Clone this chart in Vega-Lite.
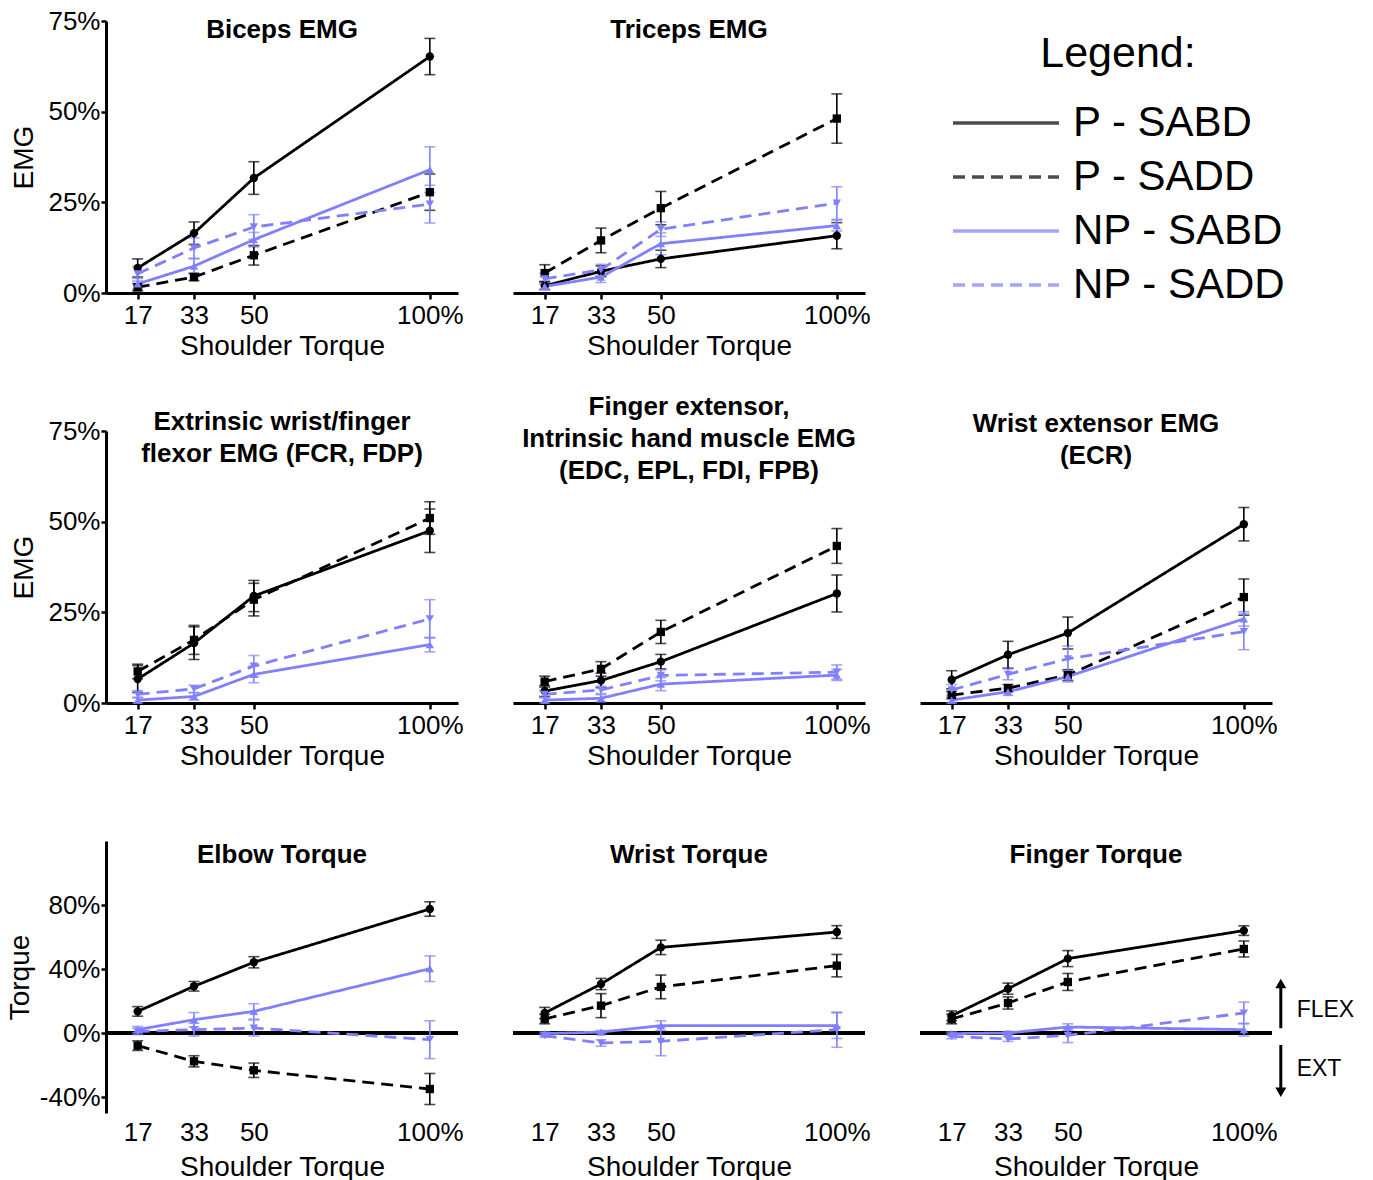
{
  "$schema": "https://vega.github.io/schema/vega-lite/v6.json",
  "padding": {"left": 6, "top": 8, "right": 0, "bottom": 0},
  "background": "white",
  "data": {"values": [
    {"panel":"Biceps","group":"P - SABD","torque":17,"value":6.9,"err":2.5},
    {"panel":"Biceps","group":"P - SABD","torque":33,"value":16.5,"err":3.1},
    {"panel":"Biceps","group":"P - SABD","torque":50,"value":31.7,"err":4.5},
    {"panel":"Biceps","group":"P - SABD","torque":100,"value":65.2,"err":5.0},
    {"panel":"Biceps","group":"P - SADD","torque":17,"value":1.6,"err":1.0},
    {"panel":"Biceps","group":"P - SADD","torque":33,"value":4.4,"err":1.0},
    {"panel":"Biceps","group":"P - SADD","torque":50,"value":10.4,"err":2.7},
    {"panel":"Biceps","group":"P - SADD","torque":100,"value":27.8,"err":5.0},
    {"panel":"Biceps","group":"NP - SABD","torque":17,"value":2.5,"err":1.5},
    {"panel":"Biceps","group":"NP - SABD","torque":33,"value":7.4,"err":2.0},
    {"panel":"Biceps","group":"NP - SABD","torque":50,"value":14.7,"err":2.0},
    {"panel":"Biceps","group":"NP - SABD","torque":100,"value":34.0,"err":6.3},
    {"panel":"Biceps","group":"NP - SADD","torque":17,"value":5.3,"err":2.0},
    {"panel":"Biceps","group":"NP - SADD","torque":33,"value":12.4,"err":2.8},
    {"panel":"Biceps","group":"NP - SADD","torque":50,"value":18.2,"err":3.4},
    {"panel":"Biceps","group":"NP - SADD","torque":100,"value":24.5,"err":5.2},
    {"panel":"Triceps","group":"P - SABD","torque":17,"value":2.0,"err":1.0},
    {"panel":"Triceps","group":"P - SABD","torque":33,"value":6.0,"err":1.5},
    {"panel":"Triceps","group":"P - SABD","torque":50,"value":9.4,"err":2.4},
    {"panel":"Triceps","group":"P - SABD","torque":100,"value":15.8,"err":3.6},
    {"panel":"Triceps","group":"P - SADD","torque":17,"value":5.5,"err":2.3},
    {"panel":"Triceps","group":"P - SADD","torque":33,"value":14.5,"err":3.4},
    {"panel":"Triceps","group":"P - SADD","torque":50,"value":23.4,"err":4.6},
    {"panel":"Triceps","group":"P - SADD","torque":100,"value":48.1,"err":6.8},
    {"panel":"Triceps","group":"NP - SABD","torque":17,"value":1.8,"err":1.0},
    {"panel":"Triceps","group":"NP - SABD","torque":33,"value":4.4,"err":1.5},
    {"panel":"Triceps","group":"NP - SABD","torque":50,"value":13.6,"err":3.0},
    {"panel":"Triceps","group":"NP - SABD","torque":100,"value":18.6,"err":1.5},
    {"panel":"Triceps","group":"NP - SADD","torque":17,"value":3.9,"err":1.5},
    {"panel":"Triceps","group":"NP - SADD","torque":33,"value":6.4,"err":1.5},
    {"panel":"Triceps","group":"NP - SADD","torque":50,"value":17.6,"err":2.0},
    {"panel":"Triceps","group":"NP - SADD","torque":100,"value":24.8,"err":4.5},
    {"panel":"Flexor","group":"P - SABD","torque":17,"value":6.6,"err":3.7},
    {"panel":"Flexor","group":"P - SABD","torque":33,"value":16.5,"err":4.5},
    {"panel":"Flexor","group":"P - SABD","torque":50,"value":29.5,"err":4.3},
    {"panel":"Flexor","group":"P - SABD","torque":100,"value":47.5,"err":6.0},
    {"panel":"Flexor","group":"P - SADD","torque":17,"value":8.7,"err":2.0},
    {"panel":"Flexor","group":"P - SADD","torque":33,"value":17.4,"err":4.0},
    {"panel":"Flexor","group":"P - SADD","torque":50,"value":28.5,"err":4.5},
    {"panel":"Flexor","group":"P - SADD","torque":100,"value":51.0,"err":4.5},
    {"panel":"Flexor","group":"NP - SABD","torque":17,"value":0.8,"err":0.8},
    {"panel":"Flexor","group":"NP - SABD","torque":33,"value":1.8,"err":1.0},
    {"panel":"Flexor","group":"NP - SABD","torque":50,"value":7.9,"err":2.3},
    {"panel":"Flexor","group":"NP - SABD","torque":100,"value":16.1,"err":2.0},
    {"panel":"Flexor","group":"NP - SADD","torque":17,"value":2.4,"err":1.0},
    {"panel":"Flexor","group":"NP - SADD","torque":33,"value":3.9,"err":1.0},
    {"panel":"Flexor","group":"NP - SADD","torque":50,"value":10.2,"err":2.9},
    {"panel":"Flexor","group":"NP - SADD","torque":100,"value":23.2,"err":5.3},
    {"panel":"FingerExt","group":"P - SABD","torque":17,"value":3.3,"err":1.5},
    {"panel":"FingerExt","group":"P - SABD","torque":33,"value":6.2,"err":2.0},
    {"panel":"FingerExt","group":"P - SABD","torque":50,"value":11.4,"err":2.0},
    {"panel":"FingerExt","group":"P - SABD","torque":100,"value":30.2,"err":5.1},
    {"panel":"FingerExt","group":"P - SADD","torque":17,"value":5.9,"err":1.5},
    {"panel":"FingerExt","group":"P - SADD","torque":33,"value":9.4,"err":2.0},
    {"panel":"FingerExt","group":"P - SADD","torque":50,"value":19.6,"err":3.2},
    {"panel":"FingerExt","group":"P - SADD","torque":100,"value":43.3,"err":4.8},
    {"panel":"FingerExt","group":"NP - SABD","torque":17,"value":0.8,"err":0.8},
    {"panel":"FingerExt","group":"NP - SABD","torque":33,"value":1.3,"err":1.0},
    {"panel":"FingerExt","group":"NP - SABD","torque":50,"value":5.2,"err":1.8},
    {"panel":"FingerExt","group":"NP - SABD","torque":100,"value":7.7,"err":1.5},
    {"panel":"FingerExt","group":"NP - SADD","torque":17,"value":2.4,"err":1.0},
    {"panel":"FingerExt","group":"NP - SADD","torque":33,"value":3.6,"err":1.0},
    {"panel":"FingerExt","group":"NP - SADD","torque":50,"value":7.6,"err":1.5},
    {"panel":"FingerExt","group":"NP - SADD","torque":100,"value":8.5,"err":2.0},
    {"panel":"WristExt","group":"P - SABD","torque":17,"value":6.4,"err":2.5},
    {"panel":"WristExt","group":"P - SABD","torque":33,"value":13.3,"err":3.7},
    {"panel":"WristExt","group":"P - SABD","torque":50,"value":19.3,"err":4.4},
    {"panel":"WristExt","group":"P - SABD","torque":100,"value":49.3,"err":4.6},
    {"panel":"WristExt","group":"P - SADD","torque":17,"value":2.2,"err":1.0},
    {"panel":"WristExt","group":"P - SADD","torque":33,"value":4.1,"err":1.0},
    {"panel":"WristExt","group":"P - SADD","torque":50,"value":7.7,"err":1.5},
    {"panel":"WristExt","group":"P - SADD","torque":100,"value":29.2,"err":5.0},
    {"panel":"WristExt","group":"NP - SABD","torque":17,"value":0.8,"err":0.8},
    {"panel":"WristExt","group":"NP - SABD","torque":33,"value":3.1,"err":1.0},
    {"panel":"WristExt","group":"NP - SABD","torque":50,"value":7.3,"err":1.5},
    {"panel":"WristExt","group":"NP - SABD","torque":100,"value":23.2,"err":2.0},
    {"panel":"WristExt","group":"NP - SADD","torque":17,"value":3.6,"err":1.5},
    {"panel":"WristExt","group":"NP - SADD","torque":33,"value":7.9,"err":1.5},
    {"panel":"WristExt","group":"NP - SADD","torque":50,"value":12.2,"err":3.5},
    {"panel":"WristExt","group":"NP - SADD","torque":100,"value":19.7,"err":5.0},
    {"panel":"Elbow","group":"P - SABD","torque":17,"value":13.5,"err":3.0},
    {"panel":"Elbow","group":"P - SABD","torque":33,"value":29.2,"err":3.0},
    {"panel":"Elbow","group":"P - SABD","torque":50,"value":44.2,"err":3.5},
    {"panel":"Elbow","group":"P - SABD","torque":100,"value":77.5,"err":4.5},
    {"panel":"Elbow","group":"P - SADD","torque":17,"value":-7.9,"err":3.0},
    {"panel":"Elbow","group":"P - SADD","torque":33,"value":-17.7,"err":3.5},
    {"panel":"Elbow","group":"P - SADD","torque":50,"value":-23.3,"err":4.5},
    {"panel":"Elbow","group":"P - SADD","torque":100,"value":-35.0,"err":9.7},
    {"panel":"Elbow","group":"NP - SABD","torque":17,"value":2.1,"err":2.0},
    {"panel":"Elbow","group":"NP - SABD","torque":33,"value":8.3,"err":4.5},
    {"panel":"Elbow","group":"NP - SABD","torque":50,"value":13.5,"err":4.8},
    {"panel":"Elbow","group":"NP - SABD","torque":100,"value":40.2,"err":8.0},
    {"panel":"Elbow","group":"NP - SADD","torque":17,"value":1.0,"err":2.0},
    {"panel":"Elbow","group":"NP - SADD","torque":33,"value":2.1,"err":4.0},
    {"panel":"Elbow","group":"NP - SADD","torque":50,"value":3.1,"err":5.0},
    {"panel":"Elbow","group":"NP - SADD","torque":100,"value":-4.2,"err":11.8},
    {"panel":"WristT","group":"P - SABD","torque":17,"value":12.5,"err":3.5},
    {"panel":"WristT","group":"P - SABD","torque":33,"value":30.6,"err":3.5},
    {"panel":"WristT","group":"P - SABD","torque":50,"value":53.5,"err":4.5},
    {"panel":"WristT","group":"P - SABD","torque":100,"value":63.1,"err":4.0},
    {"panel":"WristT","group":"P - SADD","torque":17,"value":8.75,"err":3.0},
    {"panel":"WristT","group":"P - SADD","torque":33,"value":17.1,"err":7.5},
    {"panel":"WristT","group":"P - SADD","torque":50,"value":28.8,"err":7.4},
    {"panel":"WristT","group":"P - SADD","torque":100,"value":42.1,"err":7.0},
    {"panel":"WristT","group":"NP - SABD","torque":17,"value":-0.4,"err":1.0},
    {"panel":"WristT","group":"NP - SABD","torque":33,"value":0.6,"err":1.0},
    {"panel":"WristT","group":"NP - SABD","torque":50,"value":4.6,"err":3.0},
    {"panel":"WristT","group":"NP - SABD","torque":100,"value":4.6,"err":8.0},
    {"panel":"WristT","group":"NP - SADD","torque":17,"value":-1.7,"err":1.0},
    {"panel":"WristT","group":"NP - SADD","torque":33,"value":-6.25,"err":2.0},
    {"panel":"WristT","group":"NP - SADD","torque":50,"value":-5.2,"err":9.0},
    {"panel":"WristT","group":"NP - SADD","torque":100,"value":2.1,"err":11.0},
    {"panel":"FingerT","group":"P - SABD","torque":17,"value":10.8,"err":3.0},
    {"panel":"FingerT","group":"P - SABD","torque":33,"value":27.7,"err":3.5},
    {"panel":"FingerT","group":"P - SABD","torque":50,"value":46.5,"err":5.0},
    {"panel":"FingerT","group":"P - SABD","torque":100,"value":64.0,"err":3.0},
    {"panel":"FingerT","group":"P - SADD","torque":17,"value":8.75,"err":3.0},
    {"panel":"FingerT","group":"P - SADD","torque":33,"value":18.75,"err":3.8},
    {"panel":"FingerT","group":"P - SADD","torque":50,"value":31.9,"err":5.3},
    {"panel":"FingerT","group":"P - SADD","torque":100,"value":52.5,"err":5.0},
    {"panel":"FingerT","group":"NP - SABD","torque":17,"value":-0.4,"err":1.0},
    {"panel":"FingerT","group":"NP - SABD","torque":33,"value":0.0,"err":1.0},
    {"panel":"FingerT","group":"NP - SABD","torque":50,"value":3.75,"err":2.0},
    {"panel":"FingerT","group":"NP - SABD","torque":100,"value":2.1,"err":4.0},
    {"panel":"FingerT","group":"NP - SADD","torque":17,"value":-2.1,"err":1.5},
    {"panel":"FingerT","group":"NP - SADD","torque":33,"value":-3.75,"err":1.5},
    {"panel":"FingerT","group":"NP - SADD","torque":50,"value":-1.5,"err":4.5},
    {"panel":"FingerT","group":"NP - SADD","torque":100,"value":12.5,"err":6.8}
  ]},
  "columns": 3,
  "bounds": "flush",
  "spacing": {"row": 138, "column": 55},
  "concat": [
    {
      "width": 352, "height": 272,
      "title": {"text": "Biceps EMG", "offset": -35},
      "transform": [{"filter": {"field": "panel", "equal": "Biceps"}}],
      "layer": [
        {"mark": {"type": "errorbar", "ticks": {"size": 11}, "thickness": 1.6},
         "encoding": {"x": {"field": "torque", "type": "quantitative", "title": "Shoulder Torque", "scale": {"domain": [8, 108], "nice": false, "zero": false}}, "y": {"field": "value", "type": "quantitative", "title": "EMG", "scale": {"domain": [0, 75], "nice": false, "zero": false}}, "yError": {"field": "err"},
           "color": {"field": "group", "type": "nominal", "scale": {"domain": ["P - SABD","P - SADD","NP - SABD","NP - SADD"], "range": ["#000000","#000000","#8080ff","#8080ff"]}, "title": "Legend:"}}},
        {"mark": {"type": "line", "strokeWidth": 2.8},
         "encoding": {
           "x": {"field": "torque", "type": "quantitative", "title": "Shoulder Torque", "scale": {"domain": [8, 108], "nice": false, "zero": false}, "axis": {"values": [17,33,50,100], "labelExpr": "datum.value == 100 ? '100%' : datum.label", "title": "Shoulder Torque", "tickSize": 6, "labelPadding": 3, "titlePadding": 4}},
           "y": {"field": "value", "type": "quantitative", "title": "EMG", "scale": {"domain": [0, 75], "nice": false, "zero": false}, "axis": {"values": [0,25,50,75], "labelExpr": "datum.value + '%'", "title": "EMG", "tickSize": 5, "labelPadding": 1, "titlePadding": 9}},
           "color": {"field": "group", "type": "nominal", "scale": {"domain": ["P - SABD","P - SADD","NP - SABD","NP - SADD"], "range": ["#000000","#000000","#8080ff","#8080ff"]}, "title": "Legend:"},
           "strokeDash": {"field": "group", "type": "nominal", "scale": {"domain": ["P - SABD","P - SADD","NP - SABD","NP - SADD"], "range": [[1,0],[12,7],[1,0],[12,7]]}, "title": "Legend:"}}},
        {"transform": [{"filter": {"field": "group", "equal": "P - SABD"}}], "mark": {"type": "point", "shape": "circle", "filled": true, "size": 70, "opacity": 1, "color": "#000000"},
         "encoding": {"x": {"field": "torque", "type": "quantitative", "title": "Shoulder Torque", "scale": {"domain": [8, 108], "nice": false, "zero": false}}, "y": {"field": "value", "type": "quantitative", "title": "EMG", "scale": {"domain": [0, 75], "nice": false, "zero": false}}}},
        {"transform": [{"filter": {"field": "group", "equal": "P - SADD"}}], "mark": {"type": "point", "shape": "square", "filled": true, "size": 70, "opacity": 1, "color": "#000000"},
         "encoding": {"x": {"field": "torque", "type": "quantitative", "title": "Shoulder Torque", "scale": {"domain": [8, 108], "nice": false, "zero": false}}, "y": {"field": "value", "type": "quantitative", "title": "EMG", "scale": {"domain": [0, 75], "nice": false, "zero": false}}}},
        {"transform": [{"filter": {"field": "group", "equal": "NP - SABD"}}], "mark": {"type": "point", "shape": "triangle-up", "filled": true, "size": 70, "opacity": 1, "color": "#8080ff"},
         "encoding": {"x": {"field": "torque", "type": "quantitative", "title": "Shoulder Torque", "scale": {"domain": [8, 108], "nice": false, "zero": false}}, "y": {"field": "value", "type": "quantitative", "title": "EMG", "scale": {"domain": [0, 75], "nice": false, "zero": false}}}},
        {"transform": [{"filter": {"field": "group", "equal": "NP - SADD"}}], "mark": {"type": "point", "shape": "triangle-down", "filled": true, "size": 70, "opacity": 1, "color": "#8080ff"},
         "encoding": {"x": {"field": "torque", "type": "quantitative", "title": "Shoulder Torque", "scale": {"domain": [8, 108], "nice": false, "zero": false}}, "y": {"field": "value", "type": "quantitative", "title": "EMG", "scale": {"domain": [0, 75], "nice": false, "zero": false}}}}
      ]
    },
    {
      "width": 352, "height": 272,
      "title": {"text": "Triceps EMG", "offset": -22},
      "transform": [{"filter": {"field": "panel", "equal": "Triceps"}}],
      "layer": [
        {"mark": {"type": "errorbar", "ticks": {"size": 11}, "thickness": 1.6},
         "encoding": {"x": {"field": "torque", "type": "quantitative", "title": "Shoulder Torque", "scale": {"domain": [8, 108], "nice": false, "zero": false}}, "y": {"field": "value", "type": "quantitative", "scale": {"domain": [0, 75], "nice": false, "zero": false}, "axis": null}, "yError": {"field": "err"},
           "color": {"field": "group", "type": "nominal", "title": "Legend:"}}},
        {"mark": {"type": "line", "strokeWidth": 2.8},
         "encoding": {
           "x": {"field": "torque", "type": "quantitative", "title": "Shoulder Torque", "scale": {"domain": [8, 108], "nice": false, "zero": false}, "axis": {"values": [17,33,50,100], "labelExpr": "datum.value == 100 ? '100%' : datum.label", "title": "Shoulder Torque", "tickSize": 6, "labelPadding": 3, "titlePadding": 4}},
           "y": {"field": "value", "type": "quantitative", "scale": {"domain": [0, 75], "nice": false, "zero": false}, "axis": null},
           "color": {"field": "group", "type": "nominal", "title": "Legend:"},
           "strokeDash": {"field": "group", "type": "nominal", "title": "Legend:"}}},
        {"transform": [{"filter": {"field": "group", "equal": "P - SABD"}}], "mark": {"type": "point", "shape": "circle", "filled": true, "size": 70, "opacity": 1, "color": "#000000"},
         "encoding": {"x": {"field": "torque", "type": "quantitative", "title": "Shoulder Torque", "scale": {"domain": [8, 108], "nice": false, "zero": false}}, "y": {"field": "value", "type": "quantitative", "scale": {"domain": [0, 75], "nice": false, "zero": false}, "axis": null}}},
        {"transform": [{"filter": {"field": "group", "equal": "P - SADD"}}], "mark": {"type": "point", "shape": "square", "filled": true, "size": 70, "opacity": 1, "color": "#000000"},
         "encoding": {"x": {"field": "torque", "type": "quantitative", "title": "Shoulder Torque", "scale": {"domain": [8, 108], "nice": false, "zero": false}}, "y": {"field": "value", "type": "quantitative", "scale": {"domain": [0, 75], "nice": false, "zero": false}, "axis": null}}},
        {"transform": [{"filter": {"field": "group", "equal": "NP - SABD"}}], "mark": {"type": "point", "shape": "triangle-up", "filled": true, "size": 70, "opacity": 1, "color": "#8080ff"},
         "encoding": {"x": {"field": "torque", "type": "quantitative", "title": "Shoulder Torque", "scale": {"domain": [8, 108], "nice": false, "zero": false}}, "y": {"field": "value", "type": "quantitative", "scale": {"domain": [0, 75], "nice": false, "zero": false}, "axis": null}}},
        {"transform": [{"filter": {"field": "group", "equal": "NP - SADD"}}], "mark": {"type": "point", "shape": "triangle-down", "filled": true, "size": 70, "opacity": 1, "color": "#8080ff"},
         "encoding": {"x": {"field": "torque", "type": "quantitative", "title": "Shoulder Torque", "scale": {"domain": [8, 108], "nice": false, "zero": false}}, "y": {"field": "value", "type": "quantitative", "scale": {"domain": [0, 75], "nice": false, "zero": false}, "axis": null}}}
      ]
    },
    {
      "width": 352, "height": 272,
      "transform": [{"filter": "false"}],
      "mark": {"type": "point", "opacity": 0},
      "encoding": {"x": {"field": "torque", "type": "quantitative", "axis": null}, "y": {"field": "value", "type": "quantitative", "axis": null}}
    },
    {
      "width": 352, "height": 272,
      "title": {"text": ["Extrinsic wrist/finger", "flexor EMG (FCR, FDP)"], "offset": -49},
      "transform": [{"filter": {"field": "panel", "equal": "Flexor"}}],
      "layer": [
        {"mark": {"type": "errorbar", "ticks": {"size": 11}, "thickness": 1.6},
         "encoding": {"x": {"field": "torque", "type": "quantitative", "title": "Shoulder Torque", "scale": {"domain": [8, 108], "nice": false, "zero": false}}, "y": {"field": "value", "type": "quantitative", "title": "EMG", "scale": {"domain": [0, 75], "nice": false, "zero": false}}, "yError": {"field": "err"},
           "color": {"field": "group", "type": "nominal", "title": "Legend:"}}},
        {"mark": {"type": "line", "strokeWidth": 2.8},
         "encoding": {
           "x": {"field": "torque", "type": "quantitative", "title": "Shoulder Torque", "scale": {"domain": [8, 108], "nice": false, "zero": false}, "axis": {"values": [17,33,50,100], "labelExpr": "datum.value == 100 ? '100%' : datum.label", "title": "Shoulder Torque", "tickSize": 6, "labelPadding": 3, "titlePadding": 4}},
           "y": {"field": "value", "type": "quantitative", "title": "EMG", "scale": {"domain": [0, 75], "nice": false, "zero": false}, "axis": {"values": [0,25,50,75], "labelExpr": "datum.value + '%'", "title": "EMG", "tickSize": 5, "labelPadding": 1, "titlePadding": 9}},
           "color": {"field": "group", "type": "nominal", "title": "Legend:"},
           "strokeDash": {"field": "group", "type": "nominal", "title": "Legend:"}}},
        {"transform": [{"filter": {"field": "group", "equal": "P - SABD"}}], "mark": {"type": "point", "shape": "circle", "filled": true, "size": 70, "opacity": 1, "color": "#000000"},
         "encoding": {"x": {"field": "torque", "type": "quantitative", "title": "Shoulder Torque", "scale": {"domain": [8, 108], "nice": false, "zero": false}}, "y": {"field": "value", "type": "quantitative", "title": "EMG", "scale": {"domain": [0, 75], "nice": false, "zero": false}}}},
        {"transform": [{"filter": {"field": "group", "equal": "P - SADD"}}], "mark": {"type": "point", "shape": "square", "filled": true, "size": 70, "opacity": 1, "color": "#000000"},
         "encoding": {"x": {"field": "torque", "type": "quantitative", "title": "Shoulder Torque", "scale": {"domain": [8, 108], "nice": false, "zero": false}}, "y": {"field": "value", "type": "quantitative", "title": "EMG", "scale": {"domain": [0, 75], "nice": false, "zero": false}}}},
        {"transform": [{"filter": {"field": "group", "equal": "NP - SABD"}}], "mark": {"type": "point", "shape": "triangle-up", "filled": true, "size": 70, "opacity": 1, "color": "#8080ff"},
         "encoding": {"x": {"field": "torque", "type": "quantitative", "title": "Shoulder Torque", "scale": {"domain": [8, 108], "nice": false, "zero": false}}, "y": {"field": "value", "type": "quantitative", "title": "EMG", "scale": {"domain": [0, 75], "nice": false, "zero": false}}}},
        {"transform": [{"filter": {"field": "group", "equal": "NP - SADD"}}], "mark": {"type": "point", "shape": "triangle-down", "filled": true, "size": 70, "opacity": 1, "color": "#8080ff"},
         "encoding": {"x": {"field": "torque", "type": "quantitative", "title": "Shoulder Torque", "scale": {"domain": [8, 108], "nice": false, "zero": false}}, "y": {"field": "value", "type": "quantitative", "title": "EMG", "scale": {"domain": [0, 75], "nice": false, "zero": false}}}}
      ]
    },
    {
      "width": 352, "height": 272,
      "title": {"text": ["Finger extensor,", "Intrinsic hand muscle EMG", "(EDC, EPL, FDI, FPB)"], "offset": -53},
      "transform": [{"filter": {"field": "panel", "equal": "FingerExt"}}],
      "layer": [
        {"mark": {"type": "errorbar", "ticks": {"size": 11}, "thickness": 1.6},
         "encoding": {"x": {"field": "torque", "type": "quantitative", "title": "Shoulder Torque", "scale": {"domain": [8, 108], "nice": false, "zero": false}}, "y": {"field": "value", "type": "quantitative", "scale": {"domain": [0, 75], "nice": false, "zero": false}, "axis": null}, "yError": {"field": "err"},
           "color": {"field": "group", "type": "nominal", "title": "Legend:"}}},
        {"mark": {"type": "line", "strokeWidth": 2.8},
         "encoding": {
           "x": {"field": "torque", "type": "quantitative", "title": "Shoulder Torque", "scale": {"domain": [8, 108], "nice": false, "zero": false}, "axis": {"values": [17,33,50,100], "labelExpr": "datum.value == 100 ? '100%' : datum.label", "title": "Shoulder Torque", "tickSize": 6, "labelPadding": 3, "titlePadding": 4}},
           "y": {"field": "value", "type": "quantitative", "scale": {"domain": [0, 75], "nice": false, "zero": false}, "axis": null},
           "color": {"field": "group", "type": "nominal", "title": "Legend:"},
           "strokeDash": {"field": "group", "type": "nominal", "title": "Legend:"}}},
        {"transform": [{"filter": {"field": "group", "equal": "P - SABD"}}], "mark": {"type": "point", "shape": "circle", "filled": true, "size": 70, "opacity": 1, "color": "#000000"},
         "encoding": {"x": {"field": "torque", "type": "quantitative", "title": "Shoulder Torque", "scale": {"domain": [8, 108], "nice": false, "zero": false}}, "y": {"field": "value", "type": "quantitative", "scale": {"domain": [0, 75], "nice": false, "zero": false}, "axis": null}}},
        {"transform": [{"filter": {"field": "group", "equal": "P - SADD"}}], "mark": {"type": "point", "shape": "square", "filled": true, "size": 70, "opacity": 1, "color": "#000000"},
         "encoding": {"x": {"field": "torque", "type": "quantitative", "title": "Shoulder Torque", "scale": {"domain": [8, 108], "nice": false, "zero": false}}, "y": {"field": "value", "type": "quantitative", "scale": {"domain": [0, 75], "nice": false, "zero": false}, "axis": null}}},
        {"transform": [{"filter": {"field": "group", "equal": "NP - SABD"}}], "mark": {"type": "point", "shape": "triangle-up", "filled": true, "size": 70, "opacity": 1, "color": "#8080ff"},
         "encoding": {"x": {"field": "torque", "type": "quantitative", "title": "Shoulder Torque", "scale": {"domain": [8, 108], "nice": false, "zero": false}}, "y": {"field": "value", "type": "quantitative", "scale": {"domain": [0, 75], "nice": false, "zero": false}, "axis": null}}},
        {"transform": [{"filter": {"field": "group", "equal": "NP - SADD"}}], "mark": {"type": "point", "shape": "triangle-down", "filled": true, "size": 70, "opacity": 1, "color": "#8080ff"},
         "encoding": {"x": {"field": "torque", "type": "quantitative", "title": "Shoulder Torque", "scale": {"domain": [8, 108], "nice": false, "zero": false}}, "y": {"field": "value", "type": "quantitative", "scale": {"domain": [0, 75], "nice": false, "zero": false}, "axis": null}}}
      ]
    },
    {
      "width": 352, "height": 272,
      "title": {"text": ["Wrist extensor EMG", "(ECR)"], "offset": -38},
      "transform": [{"filter": {"field": "panel", "equal": "WristExt"}}],
      "layer": [
        {"mark": {"type": "errorbar", "ticks": {"size": 11}, "thickness": 1.6},
         "encoding": {"x": {"field": "torque", "type": "quantitative", "title": "Shoulder Torque", "scale": {"domain": [8, 108], "nice": false, "zero": false}}, "y": {"field": "value", "type": "quantitative", "scale": {"domain": [0, 75], "nice": false, "zero": false}, "axis": null}, "yError": {"field": "err"},
           "color": {"field": "group", "type": "nominal", "title": "Legend:"}}},
        {"mark": {"type": "line", "strokeWidth": 2.8},
         "encoding": {
           "x": {"field": "torque", "type": "quantitative", "title": "Shoulder Torque", "scale": {"domain": [8, 108], "nice": false, "zero": false}, "axis": {"values": [17,33,50,100], "labelExpr": "datum.value == 100 ? '100%' : datum.label", "title": "Shoulder Torque", "tickSize": 6, "labelPadding": 3, "titlePadding": 4}},
           "y": {"field": "value", "type": "quantitative", "scale": {"domain": [0, 75], "nice": false, "zero": false}, "axis": null},
           "color": {"field": "group", "type": "nominal", "title": "Legend:"},
           "strokeDash": {"field": "group", "type": "nominal", "title": "Legend:"}}},
        {"transform": [{"filter": {"field": "group", "equal": "P - SABD"}}], "mark": {"type": "point", "shape": "circle", "filled": true, "size": 70, "opacity": 1, "color": "#000000"},
         "encoding": {"x": {"field": "torque", "type": "quantitative", "title": "Shoulder Torque", "scale": {"domain": [8, 108], "nice": false, "zero": false}}, "y": {"field": "value", "type": "quantitative", "scale": {"domain": [0, 75], "nice": false, "zero": false}, "axis": null}}},
        {"transform": [{"filter": {"field": "group", "equal": "P - SADD"}}], "mark": {"type": "point", "shape": "square", "filled": true, "size": 70, "opacity": 1, "color": "#000000"},
         "encoding": {"x": {"field": "torque", "type": "quantitative", "title": "Shoulder Torque", "scale": {"domain": [8, 108], "nice": false, "zero": false}}, "y": {"field": "value", "type": "quantitative", "scale": {"domain": [0, 75], "nice": false, "zero": false}, "axis": null}}},
        {"transform": [{"filter": {"field": "group", "equal": "NP - SABD"}}], "mark": {"type": "point", "shape": "triangle-up", "filled": true, "size": 70, "opacity": 1, "color": "#8080ff"},
         "encoding": {"x": {"field": "torque", "type": "quantitative", "title": "Shoulder Torque", "scale": {"domain": [8, 108], "nice": false, "zero": false}}, "y": {"field": "value", "type": "quantitative", "scale": {"domain": [0, 75], "nice": false, "zero": false}, "axis": null}}},
        {"transform": [{"filter": {"field": "group", "equal": "NP - SADD"}}], "mark": {"type": "point", "shape": "triangle-down", "filled": true, "size": 70, "opacity": 1, "color": "#8080ff"},
         "encoding": {"x": {"field": "torque", "type": "quantitative", "title": "Shoulder Torque", "scale": {"domain": [8, 108], "nice": false, "zero": false}}, "y": {"field": "value", "type": "quantitative", "scale": {"domain": [0, 75], "nice": false, "zero": false}, "axis": null}}}
      ]
    },
    {
      "width": 352, "height": 272,
      "title": {"text": "Elbow Torque", "offset": -27},
      "transform": [{"filter": {"field": "panel", "equal": "Elbow"}}],
      "layer": [
        {"mark": {"type": "rule", "strokeWidth": 3, "color": "black"},
         "encoding": {"y": {"datum": 0, "type": "quantitative", "title": "Torque", "scale": {"domain": [-50, 120], "nice": false, "zero": false}}}},
        {"mark": {"type": "errorbar", "ticks": {"size": 11}, "thickness": 1.6},
         "encoding": {"x": {"field": "torque", "type": "quantitative", "title": "Shoulder Torque", "scale": {"domain": [8, 108], "nice": false, "zero": false}}, "y": {"field": "value", "type": "quantitative", "title": "Torque", "scale": {"domain": [-50, 120], "nice": false, "zero": false}}, "yError": {"field": "err"},
           "color": {"field": "group", "type": "nominal", "title": "Legend:"}}},
        {"mark": {"type": "line", "strokeWidth": 2.8},
         "encoding": {
           "x": {"field": "torque", "type": "quantitative", "title": "Shoulder Torque", "scale": {"domain": [8, 108], "nice": false, "zero": false}, "axis": {"values": [17,33,50,100], "labelExpr": "datum.value == 100 ? '100%' : datum.label", "title": "Shoulder Torque", "domain": false, "ticks": false, "tickSize": 0, "labelPadding": 6, "titlePadding": 8}},
           "y": {"field": "value", "type": "quantitative", "title": "Torque", "scale": {"domain": [-50, 120], "nice": false, "zero": false}, "axis": {"values": [-40,0,40,80], "labelExpr": "datum.value + '%'", "title": "Torque", "tickSize": 5, "labelPadding": 1, "titlePadding": 5}},
           "color": {"field": "group", "type": "nominal", "title": "Legend:"},
           "strokeDash": {"field": "group", "type": "nominal", "title": "Legend:"}}},
        {"transform": [{"filter": {"field": "group", "equal": "P - SABD"}}], "mark": {"type": "point", "shape": "circle", "filled": true, "size": 70, "opacity": 1, "color": "#000000"},
         "encoding": {"x": {"field": "torque", "type": "quantitative", "title": "Shoulder Torque", "scale": {"domain": [8, 108], "nice": false, "zero": false}}, "y": {"field": "value", "type": "quantitative", "title": "Torque", "scale": {"domain": [-50, 120], "nice": false, "zero": false}}}},
        {"transform": [{"filter": {"field": "group", "equal": "P - SADD"}}], "mark": {"type": "point", "shape": "square", "filled": true, "size": 70, "opacity": 1, "color": "#000000"},
         "encoding": {"x": {"field": "torque", "type": "quantitative", "title": "Shoulder Torque", "scale": {"domain": [8, 108], "nice": false, "zero": false}}, "y": {"field": "value", "type": "quantitative", "title": "Torque", "scale": {"domain": [-50, 120], "nice": false, "zero": false}}}},
        {"transform": [{"filter": {"field": "group", "equal": "NP - SABD"}}], "mark": {"type": "point", "shape": "triangle-up", "filled": true, "size": 70, "opacity": 1, "color": "#8080ff"},
         "encoding": {"x": {"field": "torque", "type": "quantitative", "title": "Shoulder Torque", "scale": {"domain": [8, 108], "nice": false, "zero": false}}, "y": {"field": "value", "type": "quantitative", "title": "Torque", "scale": {"domain": [-50, 120], "nice": false, "zero": false}}}},
        {"transform": [{"filter": {"field": "group", "equal": "NP - SADD"}}], "mark": {"type": "point", "shape": "triangle-down", "filled": true, "size": 70, "opacity": 1, "color": "#8080ff"},
         "encoding": {"x": {"field": "torque", "type": "quantitative", "title": "Shoulder Torque", "scale": {"domain": [8, 108], "nice": false, "zero": false}}, "y": {"field": "value", "type": "quantitative", "title": "Torque", "scale": {"domain": [-50, 120], "nice": false, "zero": false}}}}
      ]
    },
    {
      "width": 352, "height": 272,
      "title": {"text": "Wrist Torque", "offset": -27},
      "transform": [{"filter": {"field": "panel", "equal": "WristT"}}],
      "layer": [
        {"mark": {"type": "rule", "strokeWidth": 3, "color": "black"},
         "encoding": {"y": {"datum": 0, "type": "quantitative", "scale": {"domain": [-50, 120], "nice": false, "zero": false}, "axis": null}}},
        {"mark": {"type": "errorbar", "ticks": {"size": 11}, "thickness": 1.6},
         "encoding": {"x": {"field": "torque", "type": "quantitative", "title": "Shoulder Torque", "scale": {"domain": [8, 108], "nice": false, "zero": false}}, "y": {"field": "value", "type": "quantitative", "scale": {"domain": [-50, 120], "nice": false, "zero": false}, "axis": null}, "yError": {"field": "err"},
           "color": {"field": "group", "type": "nominal", "title": "Legend:"}}},
        {"mark": {"type": "line", "strokeWidth": 2.8},
         "encoding": {
           "x": {"field": "torque", "type": "quantitative", "title": "Shoulder Torque", "scale": {"domain": [8, 108], "nice": false, "zero": false}, "axis": {"values": [17,33,50,100], "labelExpr": "datum.value == 100 ? '100%' : datum.label", "title": "Shoulder Torque", "domain": false, "ticks": false, "tickSize": 0, "labelPadding": 6, "titlePadding": 8}},
           "y": {"field": "value", "type": "quantitative", "scale": {"domain": [-50, 120], "nice": false, "zero": false}, "axis": null},
           "color": {"field": "group", "type": "nominal", "title": "Legend:"},
           "strokeDash": {"field": "group", "type": "nominal", "title": "Legend:"}}},
        {"transform": [{"filter": {"field": "group", "equal": "P - SABD"}}], "mark": {"type": "point", "shape": "circle", "filled": true, "size": 70, "opacity": 1, "color": "#000000"},
         "encoding": {"x": {"field": "torque", "type": "quantitative", "title": "Shoulder Torque", "scale": {"domain": [8, 108], "nice": false, "zero": false}}, "y": {"field": "value", "type": "quantitative", "scale": {"domain": [-50, 120], "nice": false, "zero": false}, "axis": null}}},
        {"transform": [{"filter": {"field": "group", "equal": "P - SADD"}}], "mark": {"type": "point", "shape": "square", "filled": true, "size": 70, "opacity": 1, "color": "#000000"},
         "encoding": {"x": {"field": "torque", "type": "quantitative", "title": "Shoulder Torque", "scale": {"domain": [8, 108], "nice": false, "zero": false}}, "y": {"field": "value", "type": "quantitative", "scale": {"domain": [-50, 120], "nice": false, "zero": false}, "axis": null}}},
        {"transform": [{"filter": {"field": "group", "equal": "NP - SABD"}}], "mark": {"type": "point", "shape": "triangle-up", "filled": true, "size": 70, "opacity": 1, "color": "#8080ff"},
         "encoding": {"x": {"field": "torque", "type": "quantitative", "title": "Shoulder Torque", "scale": {"domain": [8, 108], "nice": false, "zero": false}}, "y": {"field": "value", "type": "quantitative", "scale": {"domain": [-50, 120], "nice": false, "zero": false}, "axis": null}}},
        {"transform": [{"filter": {"field": "group", "equal": "NP - SADD"}}], "mark": {"type": "point", "shape": "triangle-down", "filled": true, "size": 70, "opacity": 1, "color": "#8080ff"},
         "encoding": {"x": {"field": "torque", "type": "quantitative", "title": "Shoulder Torque", "scale": {"domain": [8, 108], "nice": false, "zero": false}}, "y": {"field": "value", "type": "quantitative", "scale": {"domain": [-50, 120], "nice": false, "zero": false}, "axis": null}}}
      ]
    },
    {
      "width": 352, "height": 272,
      "title": {"text": "Finger Torque", "offset": -27},
      "transform": [{"filter": {"field": "panel", "equal": "FingerT"}}],
      "layer": [
        {"mark": {"type": "rule", "strokeWidth": 3, "color": "black"},
         "encoding": {"y": {"datum": 0, "type": "quantitative", "scale": {"domain": [-50, 120], "nice": false, "zero": false}, "axis": null}}},
        {"mark": {"type": "errorbar", "ticks": {"size": 11}, "thickness": 1.6},
         "encoding": {"x": {"field": "torque", "type": "quantitative", "title": "Shoulder Torque", "scale": {"domain": [8, 108], "nice": false, "zero": false}}, "y": {"field": "value", "type": "quantitative", "scale": {"domain": [-50, 120], "nice": false, "zero": false}, "axis": null}, "yError": {"field": "err"},
           "color": {"field": "group", "type": "nominal", "title": "Legend:"}}},
        {"mark": {"type": "line", "strokeWidth": 2.8},
         "encoding": {
           "x": {"field": "torque", "type": "quantitative", "title": "Shoulder Torque", "scale": {"domain": [8, 108], "nice": false, "zero": false}, "axis": {"values": [17,33,50,100], "labelExpr": "datum.value == 100 ? '100%' : datum.label", "title": "Shoulder Torque", "domain": false, "ticks": false, "tickSize": 0, "labelPadding": 6, "titlePadding": 8}},
           "y": {"field": "value", "type": "quantitative", "scale": {"domain": [-50, 120], "nice": false, "zero": false}, "axis": null},
           "color": {"field": "group", "type": "nominal", "title": "Legend:"},
           "strokeDash": {"field": "group", "type": "nominal", "title": "Legend:"}}},
        {"transform": [{"filter": {"field": "group", "equal": "P - SABD"}}], "mark": {"type": "point", "shape": "circle", "filled": true, "size": 70, "opacity": 1, "color": "#000000"},
         "encoding": {"x": {"field": "torque", "type": "quantitative", "title": "Shoulder Torque", "scale": {"domain": [8, 108], "nice": false, "zero": false}}, "y": {"field": "value", "type": "quantitative", "scale": {"domain": [-50, 120], "nice": false, "zero": false}, "axis": null}}},
        {"transform": [{"filter": {"field": "group", "equal": "P - SADD"}}], "mark": {"type": "point", "shape": "square", "filled": true, "size": 70, "opacity": 1, "color": "#000000"},
         "encoding": {"x": {"field": "torque", "type": "quantitative", "title": "Shoulder Torque", "scale": {"domain": [8, 108], "nice": false, "zero": false}}, "y": {"field": "value", "type": "quantitative", "scale": {"domain": [-50, 120], "nice": false, "zero": false}, "axis": null}}},
        {"transform": [{"filter": {"field": "group", "equal": "NP - SABD"}}], "mark": {"type": "point", "shape": "triangle-up", "filled": true, "size": 70, "opacity": 1, "color": "#8080ff"},
         "encoding": {"x": {"field": "torque", "type": "quantitative", "title": "Shoulder Torque", "scale": {"domain": [8, 108], "nice": false, "zero": false}}, "y": {"field": "value", "type": "quantitative", "scale": {"domain": [-50, 120], "nice": false, "zero": false}, "axis": null}}},
        {"transform": [{"filter": {"field": "group", "equal": "NP - SADD"}}], "mark": {"type": "point", "shape": "triangle-down", "filled": true, "size": 70, "opacity": 1, "color": "#8080ff"},
         "encoding": {"x": {"field": "torque", "type": "quantitative", "title": "Shoulder Torque", "scale": {"domain": [8, 108], "nice": false, "zero": false}}, "y": {"field": "value", "type": "quantitative", "scale": {"domain": [-50, 120], "nice": false, "zero": false}, "axis": null}}},
        {"data": {"values": [{"direction": "FLEX", "torque": 110.5, "from": 3, "to": 30}, {"direction": "EXT", "torque": 110.5, "from": -7.5, "to": -36}]},
         "mark": {"type": "rule", "strokeWidth": 3, "color": "black"},
         "encoding": {"x": {"field": "torque", "type": "quantitative", "title": "Shoulder Torque", "scale": {"domain": [8, 108], "nice": false, "zero": false}}, "y": {"field": "from", "type": "quantitative", "scale": {"domain": [-50, 120], "nice": false, "zero": false}, "axis": null}, "y2": {"field": "to"}}},
        {"data": {"values": [{"direction": "FLEX", "torque": 110.5, "tip": 31}]},
         "mark": {"type": "point", "shape": "triangle-up", "filled": true, "color": "black", "size": 120, "opacity": 1},
         "encoding": {"x": {"field": "torque", "type": "quantitative", "title": "Shoulder Torque", "scale": {"domain": [8, 108], "nice": false, "zero": false}}, "y": {"field": "tip", "type": "quantitative", "scale": {"domain": [-50, 120], "nice": false, "zero": false}, "axis": null}}},
        {"data": {"values": [{"direction": "EXT", "torque": 110.5, "tip": -37}]},
         "mark": {"type": "point", "shape": "triangle-down", "filled": true, "color": "black", "size": 120, "opacity": 1},
         "encoding": {"x": {"field": "torque", "type": "quantitative", "title": "Shoulder Torque", "scale": {"domain": [8, 108], "nice": false, "zero": false}}, "y": {"field": "tip", "type": "quantitative", "scale": {"domain": [-50, 120], "nice": false, "zero": false}, "axis": null}}},
        {"data": {"values": [{"direction": "FLEX", "torque": 115, "label_y": 14.4}, {"direction": "EXT", "torque": 115, "label_y": -22.5}]},
         "mark": {"type": "text", "align": "left", "baseline": "middle", "fontSize": 23, "color": "black"},
         "encoding": {"x": {"field": "torque", "type": "quantitative", "title": "Shoulder Torque", "scale": {"domain": [8, 108], "nice": false, "zero": false}}, "y": {"field": "label_y", "type": "quantitative", "scale": {"domain": [-50, 120], "nice": false, "zero": false}, "axis": null}, "text": {"field": "direction"}}}
      ]
    }
  ],
  "config": {
    "font": "Liberation Sans",
    "view": {"stroke": null},
    "axis": {"labelFont": "Liberation Sans", "labelFontSize": 26, "labelColor": "black", "titleFont": "Liberation Sans", "titleFontSize": 28, "titleFontWeight": "normal", "titleColor": "black", "domainColor": "black", "domainWidth": 3, "tickColor": "black", "tickWidth": 2.5, "grid": false, "labelFlush": false, "labelOverlap": false, "labelBound": false},
    "title": {"font": "Liberation Sans", "fontSize": 26, "fontWeight": "bold", "color": "black", "anchor": "middle", "frame": "group", "lineHeight": 32},
    "legend": {"orient": "none", "legendX": 845, "legendY": 12, "padding": 0, "titleFont": "Liberation Sans", "titleFontSize": 43, "titleFontWeight": "normal", "titleColor": "black", "titleAnchor": "middle", "titlePadding": 27, "labelFont": "Liberation Sans", "labelFontSize": 42, "labelColor": "black", "labelOffset": 12, "symbolType": "stroke", "symbolSize": 11236, "symbolStrokeWidth": 3.5, "rowPadding": 12, "clipHeight": 40, "labelLimit": 400}
  }
}
